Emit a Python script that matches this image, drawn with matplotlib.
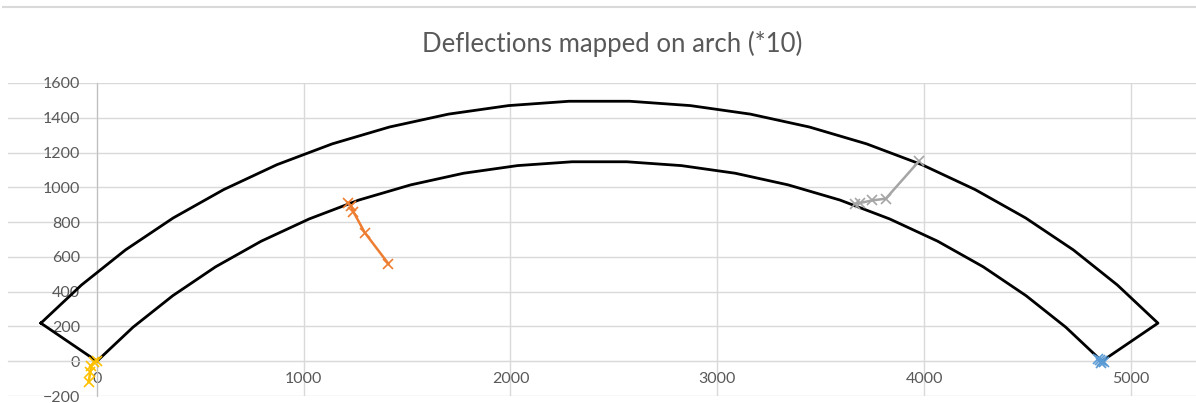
import matplotlib.pyplot as plt
from matplotlib.lines import Line2D

# arch outline (extrados and intrados nodes, left to right)
outer_x = [-271, -75, 138, 369, 613, 870, 1138, 1415, 1700, 1990, 2283,
           2577, 2870, 3160, 3445, 3722, 3990, 4247, 4491, 4722, 4935, 5131]
outer_y = [219, 438, 640, 824, 987, 1130, 1250, 1347, 1421, 1470, 1495,
           1495, 1470, 1421, 1347, 1250, 1130, 987, 824, 640, 438, 219]
inner_x = [0, 175, 367, 574, 794, 1026, 1267, 1517, 1773, 2034, 2298,
           2562, 2826, 3087, 3343, 3593, 3834, 4066, 4286, 4493, 4685, 4860]
inner_y = [0, 196, 377, 543, 690, 818, 927, 1014, 1081, 1125, 1147,
           1147, 1125, 1081, 1014, 927, 818, 690, 543, 377, 196, 0]

# deflected positions (deflection *10) at four sections
right_x = [4860, 4850, 4842, 4868, 4856]
right_y = [0, 6, 10, -4, -8]
quarter_x = [1215, 1228, 1240, 1295, 1410]
quarter_y = [910, 895, 860, 740, 560]
three_q_x = [3665, 3690, 3750, 3815, 3975]
three_q_y = [905, 910, 925, 935, 1150]
left_x = [2, -12, -28, -32, -40]
left_y = [2, -6, -25, -60, -120]

outline_x = outer_x + inner_x[::-1] + [outer_x[0]]
outline_y = outer_y + inner_y[::-1] + [outer_y[0]]

plt.rcParams['font.family'] = ['Lato', 'DejaVu Sans']
txt = '#595959'

fig = plt.figure(figsize=(11.96, 4.03), dpi=100)
ax = fig.add_axes([8 / 1196, 7 / 403, 1188 / 1196, 313 / 403])

# chart area border along the top
fig.add_artist(Line2D([3 / 1196, 1], [1 - 7 / 403] * 2, color='#D9D9D9', lw=1.5))

ax.plot(outline_x, outline_y, color='black', lw=2.0, zorder=3)

series = [
    (right_x, right_y, '#5B9BD5'),
    (quarter_x, quarter_y, '#ED7D31'),
    (three_q_x, three_q_y, '#A5A5A5'),
    (left_x, left_y, '#FFC000'),
]
for xs, ys, c in series:
    ax.plot(xs, ys, color=c, lw=1.8, marker='x', ms=7, mew=1.2, zorder=4)

ax.set_xlim(-430, 5315)
ax.set_ylim(-200, 1600)
ax.set_xticks(range(0, 5001, 1000))
ax.set_yticks(range(-200, 1601, 200))
ax.grid(True, color='#D9D9D9', lw=1.0)
ax.set_axisbelow(True)

for s in ['top', 'right']:
    ax.spines[s].set_visible(False)
ax.spines['left'].set_position(('data', 0))
ax.spines['left'].set_color('#BFBFBF')
ax.spines['bottom'].set_position(('data', 0))
ax.spines['bottom'].set_color('#D9D9D9')
ax.tick_params(axis='both', length=0, labelsize=11.5, labelcolor=txt)
ax.tick_params(axis='y', pad=12)
ax.tick_params(axis='x', pad=8)

fig.text(612 / 1196, 1 - 44 / 403, 'Deflections mapped on arch (*10)',
         ha='center', va='center', fontsize=18.5, color=txt)

fig.savefig('out.png', dpi=100)
